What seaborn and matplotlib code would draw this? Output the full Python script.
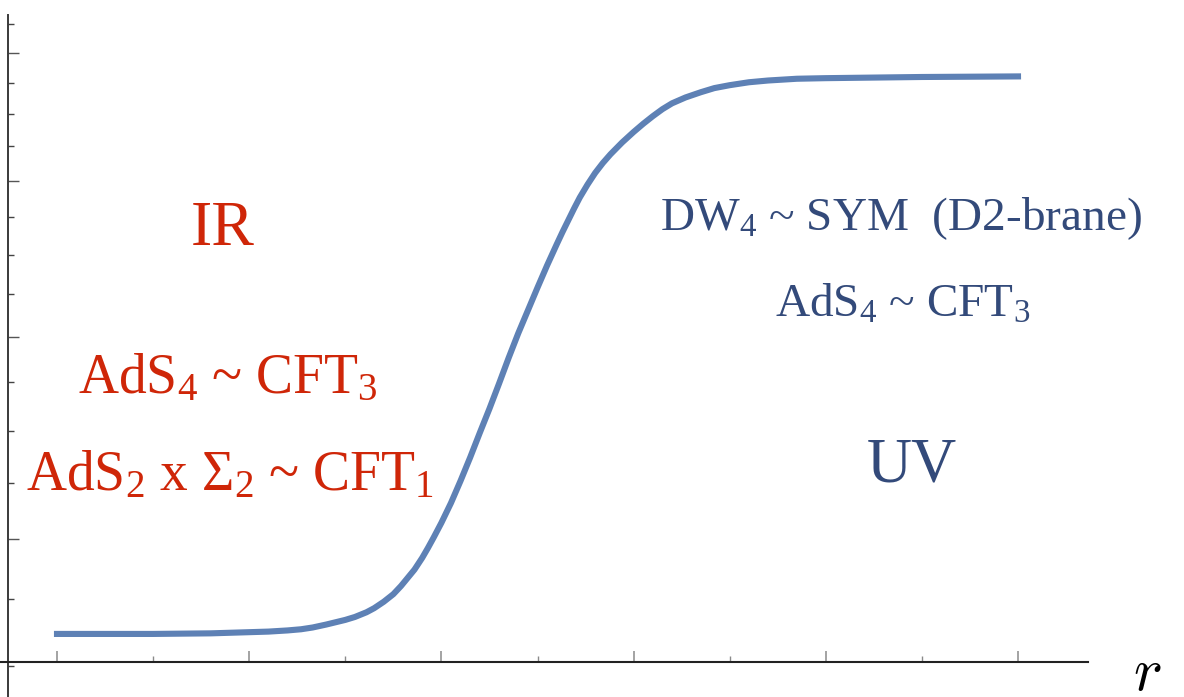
import matplotlib
matplotlib.use("Agg")
import matplotlib.pyplot as plt
import seaborn as sns
import pandas as pd
from matplotlib.ticker import FixedLocator, NullFormatter

# ---- data ----
r_values = [0.0, 0.5, 0.8, 1.0, 1.1, 1.2, 1.27, 1.33, 1.4, 1.45, 1.5, 1.55, 1.61,
            1.65, 1.7, 1.75, 1.79, 1.82, 1.86, 1.9, 1.93, 1.96, 2.0, 2.05, 2.1,
            2.15, 2.2, 2.25, 2.3, 2.35, 2.4, 2.45, 2.5, 2.55, 2.6, 2.63, 2.66,
            2.69, 2.72, 2.76, 2.8, 2.84, 2.88, 2.94, 3.0, 3.05, 3.1, 3.15, 3.2,
            3.27, 3.35, 3.42, 3.5, 3.6, 3.7, 3.85, 4.0, 4.5, 5.0]
f_values = [0.048, 0.048, 0.049, 0.051, 0.052, 0.054, 0.056, 0.059, 0.064, 0.068,
            0.072, 0.077, 0.085, 0.092, 0.103, 0.116, 0.130, 0.142, 0.158, 0.178,
            0.195, 0.213, 0.238, 0.272, 0.310, 0.350, 0.392, 0.433, 0.476, 0.520,
            0.562, 0.601, 0.640, 0.678, 0.714, 0.735, 0.755, 0.775, 0.794, 0.816,
            0.836, 0.853, 0.868, 0.888, 0.906, 0.920, 0.933, 0.945, 0.955, 0.965,
            0.974, 0.981, 0.986, 0.991, 0.994, 0.997, 0.998, 1.000, 1.001]

x_major_ticks = [0, 1, 2, 3, 4, 5]
x_minor_ticks = [0.5, 1.5, 2.5, 3.5, 4.5]
y_major_ticks = [1.041, 0.822, 0.556, 0.210]
y_minor_ticks = [1.091, 0.990, 0.937, 0.882, 0.761, 0.696, 0.629,
                 0.479, 0.395, 0.306, 0.108, -0.007]

ir_labels = ["IR", "AdS$_4$ ~ CFT$_3$", "AdS$_2$ x Σ$_2$ ~ CFT$_1$"]
uv_labels = ["DW$_4$ ~ SYM  (D2-brane)", "AdS$_4$ ~ CFT$_3$", "UV"]
axis_label = r"$\mathit{r}$"

# ---- style ----
sns.set_theme(style="white")
plt.rcParams["font.family"] = ["Liberation Serif", "DejaVu Serif"]
plt.rcParams["mathtext.default"] = "regular"

RED = "#CF2608"
BLUE = "#334A7A"
CURVE = "#5E81B5"

fig = plt.figure(figsize=(11.84, 6.97), dpi=100)
ax = fig.add_axes([0, 0, 1, 1])
ax.set_facecolor("white")

df = pd.DataFrame({"r": r_values, "f": f_values})
sns.lineplot(data=df, x="r", y="f", color=CURVE, linewidth=4.4, ax=ax, sort=False)
for ln in ax.lines:
    ln.set_solid_capstyle("projecting")
    ln.set_solid_joinstyle("round")

ax.set_xlim(-0.2966, 5.8637)
ax.set_ylim(-0.0598, 1.1316)
ax.set_xlabel("")
ax.set_ylabel("")

# axes through origin, Mathematica style
for s in ["top", "right"]:
    ax.spines[s].set_visible(False)
ax.spines["left"].set_position(("data", -0.255))
ax.spines["bottom"].set_position(("data", 0))
ax.spines["left"].set_bounds(-0.0598, 1.106)
ax.spines["bottom"].set_bounds(-0.2966, 5.364)
ax.spines["left"].set_color("#3a3a3a")
ax.spines["bottom"].set_color("#222222")
ax.spines["left"].set_linewidth(1.4)
ax.spines["bottom"].set_linewidth(1.5)

ax.xaxis.set_major_locator(FixedLocator(x_major_ticks))
ax.xaxis.set_minor_locator(FixedLocator(x_minor_ticks))
ax.yaxis.set_major_locator(FixedLocator(y_major_ticks))
ax.yaxis.set_minor_locator(FixedLocator(y_minor_ticks))
ax.xaxis.set_major_formatter(NullFormatter())
ax.yaxis.set_major_formatter(NullFormatter())
ax.tick_params(axis="x", which="major", direction="in", length=8, width=1.1,
               color="#8a8a8a", bottom=True, top=False)
ax.tick_params(axis="x", which="minor", direction="in", length=4, width=1.0,
               color="#8a8a8a", bottom=True, top=False)
ax.tick_params(axis="y", which="major", direction="in", length=8, width=1.0,
               color="#555555", left=True, right=False)
ax.tick_params(axis="y", which="minor", direction="in", length=4.2, width=1.0,
               color="#444444", left=True, right=False)

# ---- annotations ----
ax.text(0.1883, 0.6485, ir_labels[0], transform=ax.transAxes, ha="center",
        va="baseline", color=RED, fontsize=46)
ax.text(0.1926, 0.4362, ir_labels[1], transform=ax.transAxes, ha="center",
        va="baseline", color=RED, fontsize=40)
ax.text(0.1943, 0.2970, ir_labels[2], transform=ax.transAxes, ha="center",
        va="baseline", color=RED, fontsize=40)

ax.text(0.761, 0.670, uv_labels[0], transform=ax.transAxes, ha="center",
        va="baseline", color=BLUE, fontsize=34)
ax.text(0.7627, 0.545, uv_labels[1], transform=ax.transAxes, ha="center",
        va="baseline", color=BLUE, fontsize=34)
ax.text(0.770, 0.3085, uv_labels[2], transform=ax.transAxes, ha="center",
        va="baseline", color=BLUE, fontsize=45)

ax.text(0.969, 0.010, axis_label, transform=ax.transAxes, ha="center",
        va="baseline", color="black", fontsize=44, math_fontfamily="cm")

fig.savefig("out.png", dpi=100, facecolor="white")
